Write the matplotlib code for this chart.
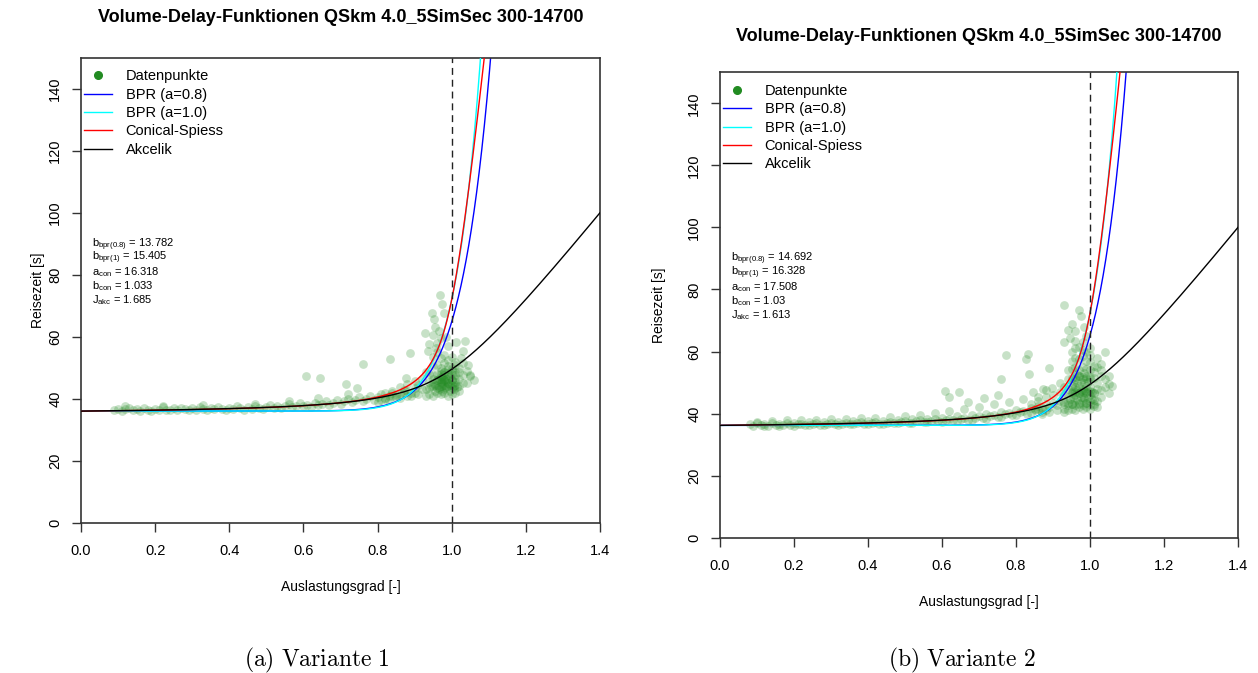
import numpy as np
import matplotlib
matplotlib.use("Agg")
import matplotlib.pyplot as plt
from matplotlib.lines import Line2D

plt.rcParams['font.family'] = 'Liberation Sans'
plt.rcParams['mathtext.fontset'] = 'custom'
plt.rcParams['mathtext.rm'] = 'Liberation Sans'
plt.rcParams['mathtext.it'] = 'Liberation Sans:italic'
plt.rcParams['mathtext.bf'] = 'Liberation Sans:bold'

TITLE = "Volume-Delay-Funktionen QSkm 4.0_5SimSec 300-14700"
LEGEND_LABELS = ["Datenpunkte", "BPR (a=0.8)", "BPR (a=1.0)", "Conical-Spiess", "Akcelik"]
X_TICKS = [0.0, 0.2, 0.4, 0.6, 0.8, 1.0, 1.2, 1.4]
Y_TICKS = [0, 20, 40, 60, 80, 100, 120, 140]

# fitted parameters shown in the plots
t0_v1, t0_v2 = 36.0, 36.2
b_bpr08 = [13.782, 14.692]
b_bpr1 = [15.405, 16.328]
a_con = [16.318, 17.508]
b_con = [1.033, 1.03]
j_akc = [1.685, 1.613]
AKC_SCALE = 75.0   # 0.25*T, estimated
AKC_QT = 416.0     # Q*T, estimated

# ---- Variante 1 data points ----
x1_band = [0.09, 0.10, 0.11, 0.12, 0.13, 0.14, 0.15, 0.16, 0.17, 0.18,
           0.19, 0.20, 0.21, 0.22, 0.23, 0.24, 0.25, 0.26, 0.27, 0.28,
           0.29, 0.30, 0.31, 0.32, 0.33, 0.34, 0.35, 0.36, 0.37, 0.38,
           0.39, 0.40, 0.41, 0.42, 0.43, 0.44, 0.45, 0.46, 0.47, 0.48,
           0.49, 0.50, 0.51, 0.52, 0.53, 0.54, 0.55, 0.56, 0.57, 0.58,
           0.59, 0.60, 0.61, 0.62, 0.63, 0.64, 0.65, 0.66, 0.67, 0.68,
           0.69, 0.70, 0.71, 0.72, 0.73, 0.74, 0.75, 0.76, 0.77, 0.78,
           0.79, 0.80, 0.81, 0.82, 0.83, 0.84, 0.85, 0.86, 0.87, 0.88,
           0.89, 0.90, 0.91, 0.12, 0.22, 0.33, 0.47, 0.56, 0.64, 0.72]
y1_band = [36.2, 36.8, 36.1, 36.6, 37.1, 36.3, 36.7, 36.0, 36.9, 36.4,
           36.1, 36.8, 36.3, 37.2, 36.5, 36.2, 36.9, 36.4, 37.0, 36.6,
           36.2, 36.9, 36.5, 37.3, 36.7, 36.3, 37.0, 36.6, 37.4, 36.8,
           36.4, 37.1, 36.7, 37.5, 36.9, 36.5, 37.2, 36.8, 37.6, 37.0,
           36.7, 37.3, 37.9, 37.1, 37.7, 36.9, 37.5, 38.2, 37.3, 37.8,
           38.5, 37.6, 38.1, 37.4, 38.7, 37.9, 38.4, 39.1, 38.1, 38.7,
           39.5, 38.4, 39.2, 40.0, 38.8, 39.6, 40.5, 39.2, 40.0, 41.0,
           39.6, 40.4, 41.5, 40.0, 40.9, 42.0, 40.4, 41.4, 42.8, 40.9,
           42.0, 43.5, 41.5, 37.6, 37.8, 38.0, 38.3, 39.2, 40.3, 41.5]
x1_core = [0.80, 0.81, 0.82, 0.83, 0.84, 0.85, 0.86, 0.87, 0.88, 0.89,
           0.90, 0.91, 0.92, 0.82, 0.84, 0.86, 0.88, 0.90, 0.92, 0.93,
           0.93, 0.94, 0.95, 0.96, 0.97, 0.98, 0.99, 1.00, 1.01, 1.02,
           0.93, 0.94, 0.95, 0.96, 0.97, 0.98, 0.99, 1.00, 1.01, 1.02,
           0.94, 0.95, 0.96, 0.97, 0.98, 0.99, 1.00, 1.01, 1.02, 1.03,
           0.94, 0.95, 0.96, 0.97, 0.98, 0.99, 1.00, 1.01, 1.02, 1.03,
           0.95, 0.96, 0.97, 0.98, 0.99, 1.00, 1.01, 1.02, 1.04, 1.05,
           0.95, 0.96, 0.97, 0.98, 0.99, 1.00, 1.01, 1.03, 1.04, 1.06,
           0.955, 0.965, 0.975, 0.985, 0.995, 1.005, 0.965, 0.975, 0.985, 0.995,
           0.96, 0.97, 0.98, 0.99, 1.00, 0.97, 0.98, 0.99, 1.00, 1.01,
           0.945, 0.955, 0.965, 0.975, 0.985, 0.995, 1.005, 1.015, 0.975, 0.985,
           0.950, 0.960, 0.970, 0.980, 0.990, 1.000, 1.010, 0.970, 0.980, 0.990]
y1_core = [39.0, 39.6, 40.3, 39.5, 40.8, 41.2, 40.2, 41.8, 42.5, 41.0,
           42.0, 44.5, 43.0, 41.8, 42.6, 43.8, 44.6, 45.8, 46.5, 48.5,
           41.0, 41.5, 41.0, 42.0, 41.5, 42.0, 41.0, 41.5, 42.0, 42.5,
           43.0, 43.5, 44.0, 43.5, 44.0, 43.0, 44.0, 43.5, 44.5, 44.0,
           45.5, 45.0, 46.0, 45.5, 46.0, 45.0, 46.0, 45.5, 46.5, 45.0,
           48.0, 47.5, 48.0, 47.0, 48.5, 47.5, 48.0, 47.5, 48.5, 47.5,
           50.5, 51.0, 50.0, 51.5, 50.5, 50.0, 51.0, 50.0, 49.0, 47.5,
           53.5, 55.0, 53.0, 54.0, 52.5, 53.5, 52.0, 51.5, 45.0, 46.0,
           42.5, 43.0, 42.5, 43.5, 42.5, 43.0, 46.5, 47.0, 46.5, 47.0,
           44.5, 45.0, 44.5, 45.0, 44.5, 49.0, 48.5, 49.5, 49.0, 48.5,
           44.0, 44.3, 43.8, 44.2, 43.9, 44.4, 44.1, 43.7, 45.8, 45.6,
           46.2, 46.0, 46.4, 46.1, 46.3, 45.9, 46.2, 48.0, 47.8, 48.2]
x1_out = [0.929, 0.948, 0.950, 0.953, 0.955, 0.969, 0.975, 0.980, 0.960, 0.940,
          0.965, 0.985, 0.935, 0.958, 0.972, 1.012, 1.031, 1.036, 1.049, 1.045,
          1.025, 0.607, 0.646, 0.714, 0.744, 0.760, 0.834, 0.878, 0.888, 0.990]
y1_out = [61.1, 67.5, 60.4, 65.7, 63.0, 73.5, 70.5, 67.8, 58.0, 57.5,
          62.0, 60.0, 55.5, 56.5, 59.5, 58.2, 55.5, 58.5, 47.2, 51.0,
          53.0, 47.3, 46.8, 44.8, 43.5, 51.1, 52.9, 46.6, 54.8, 57.0]

# ---- Variante 2 data points ----
x2_band = [0.08, 0.09, 0.10, 0.11, 0.12, 0.13, 0.14, 0.15, 0.16, 0.17,
           0.18, 0.19, 0.20, 0.21, 0.22, 0.23, 0.24, 0.25, 0.26, 0.27,
           0.28, 0.29, 0.30, 0.31, 0.32, 0.33, 0.34, 0.35, 0.36, 0.37,
           0.38, 0.39, 0.40, 0.41, 0.42, 0.43, 0.44, 0.45, 0.46, 0.47,
           0.48, 0.49, 0.50, 0.51, 0.52, 0.53, 0.54, 0.55, 0.56, 0.57,
           0.58, 0.59, 0.60, 0.61, 0.62, 0.63, 0.64, 0.65, 0.66, 0.67,
           0.68, 0.69, 0.70, 0.71, 0.72, 0.73, 0.74, 0.75, 0.76, 0.77,
           0.78, 0.79, 0.80, 0.81, 0.82, 0.83, 0.84, 0.85, 0.86, 0.87,
           0.10, 0.12, 0.14, 0.16, 0.18, 0.20, 0.22, 0.24, 0.26, 0.28,
           0.30, 0.32, 0.34, 0.36, 0.38, 0.40, 0.42, 0.44, 0.46, 0.48,
           0.50, 0.52, 0.54, 0.56, 0.58, 0.60, 0.62, 0.64, 0.66, 0.68,
           0.70, 0.72, 0.74, 0.76, 0.78, 0.80, 0.82, 0.84, 0.86, 0.88]
y2_band = [36.5, 36.0, 36.9, 36.3, 36.7, 36.1, 37.0, 36.4, 36.8, 36.2,
           36.9, 36.3, 37.1, 36.5, 36.8, 36.2, 37.2, 36.6, 36.9, 36.4,
           37.3, 36.7, 37.0, 36.5, 37.4, 36.8, 37.1, 36.6, 37.5, 36.9,
           37.2, 36.7, 37.6, 37.0, 37.3, 36.8, 37.7, 37.1, 37.4, 36.9,
           37.9, 37.3, 37.6, 37.1, 38.1, 37.5, 37.8, 37.2, 38.4, 37.7,
           38.1, 37.5, 38.7, 38.0, 38.4, 37.8, 39.1, 38.3, 38.7, 38.0,
           39.5, 38.7, 39.1, 38.5, 40.0, 39.2, 39.6, 38.9, 40.6, 39.8,
           40.2, 39.5, 41.2, 40.4, 40.9, 40.0, 41.9, 41.0, 41.6, 40.6,
           37.4, 35.9, 37.6, 36.0, 37.8, 36.1, 37.9, 36.2, 38.0, 36.3,
           38.2, 36.4, 38.3, 36.5, 38.5, 36.6, 38.7, 36.7, 38.9, 36.9,
           39.2, 37.0, 39.6, 37.2, 40.1, 37.4, 40.7, 37.7, 41.4, 38.0,
           42.2, 38.4, 43.0, 38.9, 43.8, 39.5, 44.6, 40.2, 45.5, 41.0]
x2_core = [0.85, 0.86, 0.87, 0.88, 0.89, 0.90, 0.91, 0.92, 0.93, 0.86,
           0.88, 0.90, 0.92, 0.87, 0.89, 0.91, 0.93, 0.84, 0.88, 0.92,
           0.93, 0.94, 0.95, 0.96, 0.97, 0.98, 0.99, 1.00, 1.01, 1.02,
           0.93, 0.94, 0.95, 0.96, 0.97, 0.98, 0.99, 1.00, 1.01, 1.02,
           0.93, 0.94, 0.95, 0.96, 0.97, 0.98, 0.99, 1.00, 1.01, 1.03,
           0.93, 0.94, 0.95, 0.96, 0.97, 0.98, 0.99, 1.00, 1.02, 1.03,
           0.94, 0.95, 0.96, 0.97, 0.98, 0.99, 1.00, 1.01, 1.02, 1.04,
           0.94, 0.95, 0.96, 0.97, 0.98, 0.99, 1.00, 1.01, 1.03, 1.04,
           0.95, 0.96, 0.97, 0.98, 0.99, 1.00, 1.01, 1.02, 1.03, 1.05,
           0.95, 0.96, 0.97, 0.98, 0.99, 1.00, 0.96, 0.98, 1.00, 1.05,
           0.945, 0.955, 0.965, 0.975, 0.985, 0.995, 1.005, 0.955, 0.965, 0.975,
           0.985, 0.995, 1.005, 0.955, 0.965, 0.975, 0.985, 0.995, 0.965, 0.985,
           0.940, 0.950, 0.960, 0.970, 0.980, 0.990, 1.000, 1.010, 0.950, 0.960,
           0.970, 0.980, 0.990, 1.000, 1.010, 0.960, 0.970, 0.980, 0.990, 1.000]
y2_core = [41.5, 42.3, 41.8, 43.0, 42.2, 43.5, 42.8, 44.2, 43.6, 44.0,
           45.2, 46.0, 47.0, 39.8, 40.5, 41.0, 41.5, 43.0, 47.5, 50.0,
           40.5, 41.0, 41.5, 41.0, 42.0, 41.5, 42.0, 41.5, 42.5, 42.0,
           43.0, 43.5, 43.0, 44.0, 43.5, 44.5, 43.5, 44.0, 44.5, 44.0,
           46.0, 45.5, 46.5, 46.0, 46.5, 45.5, 46.5, 46.0, 46.5, 45.5,
           48.5, 48.0, 49.0, 48.5, 49.0, 48.0, 49.0, 48.5, 48.0, 47.5,
           51.0, 51.5, 51.0, 52.0, 51.0, 51.5, 51.0, 51.5, 50.0, 48.5,
           54.0, 54.5, 55.0, 54.0, 55.0, 54.5, 54.0, 53.5, 52.0, 51.0,
           57.0, 58.0, 57.5, 58.5, 57.0, 56.5, 55.5, 55.0, 54.0, 49.5,
           60.0, 61.0, 61.5, 60.5, 60.0, 59.0, 63.5, 63.0, 61.0, 46.5,
           44.8, 45.2, 44.7, 45.3, 44.9, 45.1, 44.6, 47.3, 47.6, 47.2,
           47.7, 47.4, 47.1, 50.0, 49.7, 50.2, 49.8, 50.1, 52.8, 53.0,
           42.8, 43.2, 42.9, 43.1, 42.7, 43.3, 42.8, 43.0, 46.8, 47.0,
           46.7, 47.1, 46.9, 47.2, 46.6, 51.8, 52.1, 51.7, 52.2, 51.9]
x2_out = [0.929, 0.971, 0.976, 0.950, 0.940, 0.960, 0.985, 0.945, 0.990, 0.930,
          0.772, 0.832, 0.827, 0.835, 0.889, 0.760, 0.607, 0.646, 0.620, 0.670,
          0.713, 0.751, 0.847, 0.872, 0.897, 1.020, 1.030, 1.050, 1.060, 1.040]
y2_out = [75.1, 73.4, 71.3, 69.0, 67.0, 66.5, 68.0, 64.5, 65.0, 63.0,
          58.8, 59.3, 57.5, 52.9, 54.8, 51.0, 47.3, 46.8, 45.5, 43.6,
          44.9, 45.9, 47.1, 48.0, 48.4, 58.0, 56.0, 52.0, 49.0, 60.0]


def bpr(x, t0, a, b):
    return t0 * (1 + a * x ** b)


def conical(x, t0, a, b):
    return t0 * (2 + np.sqrt(a ** 2 * (1 - x) ** 2 + b ** 2) - a * (1 - x) - b)


def akcelik(x, t0, j):
    return t0 + AKC_SCALE * ((x - 1) + np.sqrt((x - 1) ** 2 + 8 * j * x / AKC_QT))


def draw_panel(ax, i, t0, xs, ys, title_y, ylab_x):
    ax.scatter(np.concatenate(xs), np.concatenate(ys), s=40, color='forestgreen',
               alpha=0.25, linewidths=0, zorder=1)
    xx = np.linspace(0, 1.4, 800)
    ax.plot(xx, bpr(xx, t0, 0.8, b_bpr08[i]), color='blue', lw=1.0, zorder=2)
    ax.plot(xx, bpr(xx, t0, 1.0, b_bpr1[i]), color='cyan', lw=1.0, zorder=3)
    ax.plot(xx, conical(xx, t0, a_con[i], b_con[i]), color='red', lw=1.0, zorder=4)
    ax.plot(xx, akcelik(xx, t0, j_akc[i]), color='black', lw=1.0, zorder=5)
    ax.axvline(1.0, color='#222222', lw=1.0, ls=(0, (5, 3.5)), zorder=6)

    ax.set_xlim(0, 1.4)
    ax.set_ylim(0, 150)
    ax.set_xticks(X_TICKS)
    ax.set_xticklabels([f"{v:.1f}" for v in X_TICKS])
    ax.set_yticks(Y_TICKS)
    ax.set_yticklabels([str(v) for v in Y_TICKS], rotation=90, va='center')
    ax.tick_params(direction='out', length=6.5, width=1.0, labelsize=10.5, color='#333333')
    ax.tick_params(axis='x', pad=9)
    ax.tick_params(axis='y', pad=7)
    for sp in ax.spines.values():
        sp.set_color('#333333')
        sp.set_linewidth(1.2)

    ax.text(0.5, title_y, TITLE, transform=ax.transAxes, ha='center', va='center',
            fontsize=13, fontweight='bold')
    ax.text(0.5, -0.138, "Auslastungsgrad [-]", transform=ax.transAxes,
            ha='center', va='center', fontsize=10)
    ax.text(ylab_x, 0.5, "Reisezeit [s]", transform=ax.transAxes, rotation=90,
            ha='center', va='center', fontsize=10)

    labels = [
        (r"$\mathrm{b_{bpr(0.8)}}$", b_bpr08[i]),
        (r"$\mathrm{b_{bpr(1)}}$", b_bpr1[i]),
        (r"$\mathrm{a_{con}}$", a_con[i]),
        (r"$\mathrm{b_{con}}$", b_con[i]),
        (r"$\mathrm{J_{akc}}$", j_akc[i]),
    ]
    for k, (name, val) in enumerate(labels):
        ax.text(0.031, 89.8 - 4.5 * k, f"{name} = {val:g}", fontsize=8.0,
                ha='left', va='center')

    handles = [Line2D([], [], marker='o', ls='none', color='forestgreen', ms=5.5),
               Line2D([], [], color='blue', lw=1.0),
               Line2D([], [], color='cyan', lw=1.0),
               Line2D([], [], color='red', lw=1.0),
               Line2D([], [], color='black', lw=1.0)]
    ax.legend(handles, LEGEND_LABELS, loc='upper left', frameon=False, fontsize=10.5,
              handlelength=1.9, handletextpad=0.95, labelspacing=0.3,
              borderaxespad=0.0, borderpad=0.0, bbox_to_anchor=(0.006, 0.975))


fig = plt.figure(figsize=(12.58, 6.73), dpi=100)
ax1 = fig.add_axes([81 / 1258, 1 - 522.7 / 673, 519 / 1258, 465 / 673])
ax2 = fig.add_axes([720 / 1258, 1 - 537.7 / 673, 518 / 1258, 465.4 / 673])

draw_panel(ax1, 0, t0_v1, [x1_band, x1_core, x1_out], [y1_band, y1_core, y1_out],
           1.086, -0.083)
draw_panel(ax2, 1, t0_v2, [x2_band, x2_core, x2_out], [y2_band, y2_core, y2_out],
           1.076, -0.118)

# sub-captions below each panel
fig.text(317 / 1258, 1 - 660 / 673, r"$\mathrm{(a)\ Variante\ 1}$", ha='center',
         va='center', fontsize=17, math_fontfamily='cm')
fig.text(962 / 1258, 1 - 660 / 673, r"$\mathrm{(b)\ Variante\ 2}$", ha='center',
         va='center', fontsize=17, math_fontfamily='cm')

fig.savefig("out.png", dpi=100)
